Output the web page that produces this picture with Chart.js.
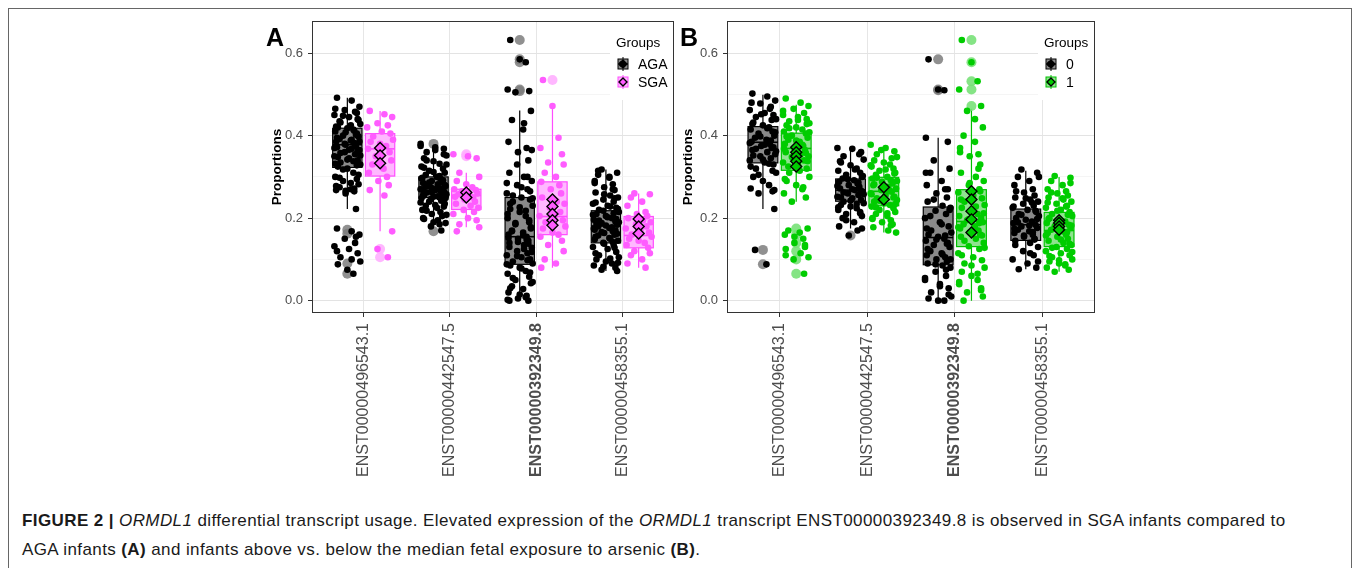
<!DOCTYPE html>
<html>
<head>
<meta charset="utf-8">
<script src="https://cdn.jsdelivr.net/npm/chart.js@4"></script>
<style>
  body { margin: 0; background: #fff; width: 1356px; height: 568px; overflow: hidden; position: relative;
         font-family: 'Liberation Sans', Arial, sans-serif; }
  #frame { position: absolute; left: 8px; top: 8px; width: 1342px; height: 620px; border: 1px solid #666; }
  .wrap { position: absolute; top: 0; width: 430px; height: 490px; }
  #wrapA { left: 255px; }
  #wrapB { left: 676px; }
  .letter { position: absolute; top: 25px; font-size: 25px; line-height: 25px; font-weight: bold; color: #000; }
  #caption { position: absolute; left: 22px; top: 506px; font-size: 17px; letter-spacing: 0.4px; line-height: 29px; color: #1a1a1a; white-space: nowrap; }
</style>
</head>
<body>
<div id="frame"></div>
<div class="wrap" id="wrapA"><canvas id="chartA" width="430" height="490"></canvas></div>
<div class="wrap" id="wrapB"><canvas id="chartB" width="430" height="490"></canvas></div>
<div class="letter" style="left:266px">A</div>
<div class="letter" style="left:680px">B</div>
<div id="caption"><b>FIGURE 2 |</b> <i>ORMDL1</i> differential transcript usage. Elevated expression of the <i>ORMDL1</i> transcript ENST00000392349.8 is observed in SGA infants compared to<br>AGA infants <b>(A)</b> and infants above vs. below the median fetal exposure to arsenic <b>(B)</b>.</div>

<script>
// --- data ---
const CATS = ['ENST00000496543.1', 'ENST00000442547.5', 'ENST00000392349.8', 'ENST00000458355.1'];
const Y_TICKS = [0, 0.1, 0.2, 0.3, 0.4, 0.5, 0.6];
const Y_TICK_LABELS = ['0.0', '', '0.2', '', '0.4', '', '0.6'];

// panel A, AGA
const AGA_Q1 = [0.323, 0.250, 0.088, 0.140];
const AGA_MED = [0.378, 0.275, 0.155, 0.181];
const AGA_Q3 = [0.418, 0.300, 0.250, 0.218];
const AGA_LO = [0.222, 0.190, 0.000, 0.072];
const AGA_HI = [0.492, 0.372, 0.461, 0.318];
const AGA_OUT = [[0.172, 0.162, 0.090, 0.065], [0.380, 0.168], [0.632, 0.585, 0.578, 0.512, 0.508], []];
const AGA_PTS = [
  [0.492, 0.485, 0.47, 0.462, 0.458, 0.45, 0.445, 0.44, 0.432, 0.428, 0.42, 0.418, 0.415, 0.41, 0.405, 0.40, 0.398, 0.392, 0.388, 0.385, 0.382, 0.378, 0.375, 0.372, 0.368, 0.365, 0.36, 0.355, 0.35, 0.345, 0.34, 0.335, 0.33, 0.325, 0.32, 0.31, 0.30, 0.295, 0.29, 0.282, 0.275, 0.27, 0.268, 0.265, 0.26, 0.222,
   0.175, 0.168, 0.16, 0.15, 0.14, 0.132, 0.125, 0.115, 0.105, 0.095, 0.088, 0.075, 0.065,
   0.465, 0.455, 0.448, 0.438, 0.435, 0.425, 0.422, 0.412, 0.408, 0.402, 0.395, 0.39, 0.386, 0.38, 0.376, 0.37, 0.366, 0.362, 0.358, 0.352, 0.348, 0.342, 0.338, 0.332, 0.328, 0.318, 0.305, 0.298, 0.285, 0.278, 0.272, 0.266, 0.155, 0.12, 0.1],
  [0.38, 0.372, 0.368, 0.36, 0.352, 0.345, 0.338, 0.332, 0.325, 0.32, 0.315, 0.31, 0.305, 0.30, 0.298, 0.295, 0.29, 0.288, 0.285, 0.282, 0.278, 0.275, 0.272, 0.27, 0.268, 0.265, 0.262, 0.258, 0.255, 0.252, 0.25, 0.248, 0.245, 0.24, 0.235, 0.23, 0.225, 0.22, 0.215, 0.21, 0.205, 0.2, 0.195, 0.188, 0.18, 0.17,
   0.375, 0.365, 0.355, 0.34, 0.33, 0.322, 0.312, 0.302, 0.296, 0.292, 0.286, 0.28, 0.276, 0.273, 0.269, 0.266, 0.263, 0.26, 0.256, 0.253, 0.249, 0.246, 0.242, 0.238, 0.232, 0.228, 0.218, 0.208, 0.198, 0.19, 0.185],
  [0.632, 0.585, 0.578, 0.512, 0.508, 0.505, 0.46, 0.438, 0.415, 0.385, 0.37, 0.36, 0.34, 0.31, 0.3, 0.29, 0.28, 0.27, 0.26, 0.25, 0.245, 0.24, 0.23, 0.222, 0.215, 0.205, 0.2, 0.19, 0.185, 0.178, 0.17, 0.165, 0.16, 0.155, 0.15, 0.145, 0.14, 0.135, 0.128, 0.12, 0.115, 0.11, 0.105, 0.1, 0.095, 0.09, 0.085, 0.08, 0.072, 0.065, 0.058, 0.05, 0.042, 0.035, 0.028, 0.02, 0.012, 0.005, 0.0, 0.0,
   0.43, 0.365, 0.33, 0.3, 0.285, 0.275, 0.265, 0.255, 0.248, 0.235, 0.226, 0.218, 0.21, 0.195, 0.188, 0.175, 0.168, 0.158, 0.152, 0.148, 0.142, 0.138, 0.13, 0.125, 0.118, 0.108, 0.098, 0.088, 0.078, 0.068, 0.055, 0.045, 0.03, 0.015, 0.008, 0.002],
  [0.318, 0.31, 0.305, 0.3, 0.29, 0.282, 0.275, 0.268, 0.262, 0.255, 0.25, 0.245, 0.24, 0.235, 0.23, 0.225, 0.22, 0.215, 0.21, 0.205, 0.2, 0.196, 0.192, 0.188, 0.184, 0.18, 0.176, 0.172, 0.168, 0.164, 0.16, 0.155, 0.15, 0.145, 0.14, 0.135, 0.13, 0.125, 0.118, 0.11, 0.105, 0.1, 0.095, 0.09, 0.085, 0.08, 0.075, 0.072,
   0.315, 0.298, 0.285, 0.27, 0.258, 0.248, 0.238, 0.228, 0.222, 0.218, 0.212, 0.208, 0.202, 0.198, 0.194, 0.19, 0.186, 0.182, 0.178, 0.174, 0.17, 0.166, 0.162, 0.158, 0.152, 0.148, 0.142, 0.138, 0.128, 0.115, 0.102, 0.092, 0.082]
];

// panel A, SGA
const SGA_Q1 = [0.302, 0.221, 0.160, 0.128];
const SGA_MED = [0.368, 0.255, 0.204, 0.158];
const SGA_Q3 = [0.405, 0.270, 0.288, 0.204];
const SGA_LO = [0.168, 0.178, 0.080, 0.080];
const SGA_HI = [0.460, 0.310, 0.472, 0.260];
const SGA_OUT = [[0.125, 0.105], [0.355, 0.350], [0.535], []];
const SGA_MEAN = [[0.370, 0.352, 0.333], [0.262, 0.250], [0.245, 0.228, 0.210, 0.195, 0.183], [0.198, 0.180, 0.163]];
const SGA_PTS = [
  [0.46, 0.452, 0.445, 0.43, 0.425, 0.42, 0.41, 0.405, 0.398, 0.39, 0.385, 0.38, 0.375, 0.368, 0.36, 0.35, 0.34, 0.33, 0.32, 0.31, 0.3, 0.29, 0.28, 0.268, 0.255, 0.168, 0.125, 0.105],
  [0.355, 0.35, 0.345, 0.31, 0.3, 0.29, 0.282, 0.275, 0.27, 0.268, 0.265, 0.26, 0.258, 0.255, 0.252, 0.25, 0.245, 0.24, 0.235, 0.23, 0.225, 0.22, 0.215, 0.21, 0.2, 0.195, 0.185, 0.178, 0.168],
  [0.535, 0.472, 0.395, 0.37, 0.355, 0.335, 0.33, 0.31, 0.3, 0.288, 0.28, 0.27, 0.26, 0.25, 0.24, 0.235, 0.225, 0.215, 0.205, 0.2, 0.195, 0.19, 0.18, 0.175, 0.165, 0.16, 0.155, 0.145, 0.135, 0.12, 0.1, 0.09, 0.08],
  [0.26, 0.258, 0.25, 0.24, 0.23, 0.215, 0.21, 0.205, 0.2, 0.195, 0.19, 0.185, 0.18, 0.175, 0.17, 0.165, 0.16, 0.155, 0.15, 0.145, 0.14, 0.135, 0.128, 0.12, 0.115, 0.11, 0.1, 0.09, 0.08]
];

// panel B, group 0
const G0_Q1 = [0.334, 0.241, 0.087, 0.146];
const G0_MED = [0.384, 0.268, 0.153, 0.184];
const G0_Q3 = [0.422, 0.295, 0.227, 0.222];
const G0_LO = [0.222, 0.175, 0.000, 0.076];
const G0_HI = [0.499, 0.368, 0.395, 0.315];
const G0_OUT = [[0.123, 0.088], [0.158], [0.585, 0.512, 0.510], []];
const G0_PTS = [
  [0.502, 0.495, 0.485, 0.478, 0.47, 0.462, 0.455, 0.45, 0.445, 0.44, 0.432, 0.425, 0.42, 0.415, 0.41, 0.405, 0.4, 0.395, 0.39, 0.385, 0.38, 0.375, 0.37, 0.365, 0.36, 0.355, 0.35, 0.345, 0.34, 0.335, 0.33, 0.32, 0.31, 0.3, 0.29, 0.28, 0.272, 0.265, 0.26, 0.222, 0.123, 0.088,
   0.48, 0.465, 0.452, 0.438, 0.428, 0.418, 0.408, 0.398, 0.388, 0.382, 0.378, 0.372, 0.368, 0.362, 0.352, 0.342, 0.332, 0.325, 0.315, 0.305, 0.268],
  [0.37, 0.368, 0.36, 0.35, 0.342, 0.335, 0.328, 0.32, 0.315, 0.31, 0.305, 0.3, 0.296, 0.292, 0.288, 0.284, 0.28, 0.276, 0.272, 0.268, 0.264, 0.26, 0.256, 0.252, 0.248, 0.244, 0.24, 0.236, 0.232, 0.228, 0.224, 0.22, 0.215, 0.21, 0.205, 0.2, 0.19, 0.18, 0.17, 0.158,
   0.355, 0.338, 0.318, 0.302, 0.294, 0.286, 0.278, 0.27, 0.266, 0.262, 0.258, 0.25, 0.242, 0.234, 0.226, 0.212, 0.195, 0.175],
  [0.585, 0.512, 0.51, 0.395, 0.385, 0.34, 0.32, 0.31, 0.29, 0.28, 0.27, 0.26, 0.25, 0.24, 0.23, 0.225, 0.218, 0.21, 0.2, 0.19, 0.18, 0.17, 0.165, 0.16, 0.155, 0.15, 0.145, 0.14, 0.135, 0.13, 0.12, 0.115, 0.11, 0.105, 0.1, 0.095, 0.09, 0.085, 0.08, 0.07, 0.06, 0.05, 0.04, 0.03, 0.02, 0.01, 0.005, 0.0, 0.0,
   0.31, 0.27, 0.245, 0.22, 0.205, 0.185, 0.175, 0.158, 0.148, 0.138, 0.125, 0.112, 0.1, 0.088, 0.075, 0.055, 0.035, 0.015],
  [0.318, 0.31, 0.3, 0.29, 0.28, 0.27, 0.262, 0.255, 0.25, 0.245, 0.24, 0.235, 0.23, 0.225, 0.22, 0.215, 0.21, 0.205, 0.2, 0.196, 0.192, 0.188, 0.184, 0.18, 0.176, 0.172, 0.168, 0.164, 0.16, 0.155, 0.15, 0.145, 0.14, 0.13, 0.12, 0.11, 0.1, 0.09, 0.08, 0.076,
   0.3, 0.265, 0.248, 0.238, 0.228, 0.218, 0.208, 0.198, 0.19, 0.182, 0.174, 0.166, 0.158, 0.148, 0.135, 0.115, 0.095]
];

// panel B, group 1
const G1_Q1 = [0.316, 0.230, 0.131, 0.131];
const G1_MED = [0.369, 0.265, 0.192, 0.170];
const G1_Q3 = [0.406, 0.299, 0.269, 0.214];
const G1_LO = [0.240, 0.165, 0.000, 0.070];
const G1_HI = [0.475, 0.375, 0.465, 0.300];
const G1_OUT = [[0.175, 0.16, 0.14, 0.12, 0.10, 0.065], [], [0.632, 0.578, 0.532, 0.512, 0.472], []];
const G1_MEAN = [[0.372, 0.360, 0.350, 0.338, 0.325], [0.275, 0.245], [0.265, 0.245, 0.217, 0.197, 0.165], [0.195, 0.188, 0.180, 0.172]];
const G1_PTS = [
  [0.49, 0.48, 0.472, 0.465, 0.455, 0.45, 0.445, 0.44, 0.435, 0.43, 0.425, 0.42, 0.415, 0.41, 0.405, 0.4, 0.395, 0.39, 0.385, 0.38, 0.375, 0.37, 0.365, 0.36, 0.355, 0.35, 0.345, 0.34, 0.335, 0.33, 0.32, 0.31, 0.3, 0.29, 0.28, 0.27, 0.26, 0.25, 0.24, 0.175, 0.17, 0.165, 0.16, 0.15, 0.14, 0.135, 0.125, 0.115, 0.105, 0.1, 0.065,
   0.46, 0.438, 0.428, 0.418, 0.408, 0.398, 0.388, 0.378, 0.368, 0.358, 0.348, 0.338, 0.325, 0.315, 0.295, 0.275, 0.155, 0.13, 0.11],
  [0.378, 0.37, 0.362, 0.355, 0.348, 0.34, 0.335, 0.33, 0.325, 0.32, 0.315, 0.31, 0.305, 0.3, 0.296, 0.292, 0.288, 0.284, 0.28, 0.276, 0.272, 0.268, 0.264, 0.26, 0.256, 0.252, 0.248, 0.244, 0.24, 0.236, 0.232, 0.228, 0.224, 0.22, 0.215, 0.21, 0.205, 0.2, 0.195, 0.19, 0.185, 0.178, 0.17, 0.165,
   0.365, 0.345, 0.328, 0.318, 0.308, 0.298, 0.29, 0.282, 0.274, 0.266, 0.258, 0.25, 0.242, 0.234, 0.226, 0.212, 0.198, 0.182],
  [0.632, 0.578, 0.532, 0.512, 0.472, 0.46, 0.42, 0.4, 0.385, 0.37, 0.355, 0.35, 0.33, 0.31, 0.3, 0.29, 0.28, 0.27, 0.262, 0.255, 0.248, 0.24, 0.232, 0.225, 0.218, 0.21, 0.205, 0.2, 0.195, 0.19, 0.185, 0.18, 0.175, 0.17, 0.165, 0.16, 0.155, 0.15, 0.14, 0.132, 0.125, 0.115, 0.105, 0.098, 0.09, 0.08, 0.07, 0.06, 0.05, 0.04, 0.03, 0.02, 0.01, 0.0,
   0.44, 0.36, 0.32, 0.285, 0.265, 0.245, 0.228, 0.212, 0.198, 0.188, 0.178, 0.168, 0.158, 0.145, 0.128, 0.11, 0.085, 0.065, 0.045, 0.025],
  [0.302, 0.298, 0.29, 0.28, 0.27, 0.265, 0.26, 0.255, 0.25, 0.245, 0.24, 0.235, 0.23, 0.225, 0.22, 0.215, 0.21, 0.205, 0.2, 0.196, 0.192, 0.188, 0.184, 0.18, 0.176, 0.172, 0.168, 0.164, 0.16, 0.155, 0.15, 0.145, 0.14, 0.135, 0.13, 0.125, 0.12, 0.115, 0.11, 0.105, 0.1, 0.095, 0.09, 0.085, 0.08, 0.075, 0.07,
   0.285, 0.262, 0.248, 0.238, 0.228, 0.218, 0.208, 0.198, 0.19, 0.182, 0.174, 0.166, 0.158, 0.148, 0.138, 0.128, 0.118, 0.108, 0.098, 0.088]
];

// --- styling ---
const FONT = "'Liberation Sans', Arial, sans-serif";
const DODGE = 0.19;     // group offset from category centre
const BOX_W = 0.34;     // box width in category units
// fixed jitter pattern (horizontal scatter only)
const JITTER = [-0.12, 0.05, 0.14, -0.03, 0.09, -0.15, 0.02, 0.12, -0.08, 0.15, -0.11, 0.0, 0.07, -0.14, 0.11, -0.05, 0.13, -0.09, 0.04, -0.13, 0.08, -0.02, 0.1];

const GRAY = { fill: '#8a8a8a', line: '#000000', point: '#000000', outlier: 'rgba(125,125,125,0.85)' };
const PINK = { fill: '#ffb8ff', line: '#ff4dff', point: '#ff5cff', outlier: 'rgba(255,175,255,0.9)' };
const GREEN = { fill: '#8fe38f', line: '#00c000', point: '#00cc00', outlier: 'rgba(120,225,120,0.9)' };

const groupsA = [
  { name: 'AGA', q1: AGA_Q1, med: AGA_MED, q3: AGA_Q3, lo: AGA_LO, hi: AGA_HI, out: AGA_OUT, pts: AGA_PTS, mean: null, style: GRAY },
  { name: 'SGA', q1: SGA_Q1, med: SGA_MED, q3: SGA_Q3, lo: SGA_LO, hi: SGA_HI, out: SGA_OUT, pts: SGA_PTS, mean: SGA_MEAN, style: PINK },
];
const groupsB = [
  { name: '0', q1: G0_Q1, med: G0_MED, q3: G0_Q3, lo: G0_LO, hi: G0_HI, out: G0_OUT, pts: G0_PTS, mean: null, style: GRAY },
  { name: '1', q1: G1_Q1, med: G1_MED, q3: G1_Q3, lo: G1_LO, hi: G1_HI, out: G1_OUT, pts: G1_PTS, mean: G1_MEAN, style: GREEN },
];

function drawDiamond(ctx, x, y, r, fill) {
  ctx.beginPath();
  ctx.moveTo(x, y - r); ctx.lineTo(x + r, y); ctx.lineTo(x, y + r); ctx.lineTo(x - r, y); ctx.closePath();
  ctx.fillStyle = fill; ctx.fill();
  ctx.strokeStyle = '#000'; ctx.lineWidth = 1.3; ctx.stroke();
}

function boxPlugin(groups, legendLeft) {
  return {
    id: 'boxes',
    beforeDatasetsDraw(chart) {
      const { ctx, scales: { x, y } } = chart;
      ctx.save();
      groups.forEach((g, gi) => {
        const dx = gi === 0 ? -DODGE : DODGE;
        g.q1.forEach((q1, i) => {
          const cx = x.getPixelForValue(i + dx);
          const hw = x.getPixelForValue(i + dx + BOX_W / 2) - cx;
          const y1 = y.getPixelForValue(q1), y3 = y.getPixelForValue(g.q3[i]);
          ctx.strokeStyle = g.style.line;
          ctx.lineWidth = 1.2;
          ctx.beginPath();
          ctx.moveTo(cx, y.getPixelForValue(g.hi[i])); ctx.lineTo(cx, y3);
          ctx.moveTo(cx, y1); ctx.lineTo(cx, y.getPixelForValue(g.lo[i]));
          ctx.stroke();
          ctx.fillStyle = g.style.fill;
          ctx.fillRect(cx - hw, y3, 2 * hw, y1 - y3);
          ctx.strokeRect(cx - hw, y3, 2 * hw, y1 - y3);
          const ym = y.getPixelForValue(g.med[i]);
          ctx.lineWidth = 1.6;
          ctx.beginPath(); ctx.moveTo(cx - hw, ym); ctx.lineTo(cx + hw, ym); ctx.stroke();
        });
      });
      ctx.restore();
    },
    afterDraw(chart) {
      const { ctx, chartArea: a } = chart;
      ctx.save();
      // legend box inside the panel
      const tl = legendLeft;
      ctx.fillStyle = '#fff';
      ctx.fillRect(tl - 6, a.top + 1, a.right - tl + 5, 78);
      ctx.fillStyle = '#000';
      ctx.font = '13.5px ' + FONT;
      ctx.textBaseline = 'middle';
      ctx.fillText('Groups', tl, 43);
      groups.forEach((g, gi) => {
        const cy = 64 + gi * 18, cx = tl + 7;
        ctx.strokeStyle = g.style.line; ctx.lineWidth = 1;
        ctx.beginPath(); ctx.moveTo(cx, cy - 7); ctx.lineTo(cx, cy + 7); ctx.stroke();
        ctx.fillStyle = g.style.fill;
        ctx.fillRect(cx - 5, cy - 5, 10, 10);
        ctx.strokeRect(cx - 5, cy - 5, 10, 10);
        ctx.beginPath(); ctx.moveTo(cx - 5, cy); ctx.lineTo(cx + 5, cy); ctx.stroke();
        ctx.fillStyle = g.style.point;
        ctx.beginPath(); ctx.arc(cx - 1, cy, 3, 0, Math.PI * 2); ctx.fill();
        drawDiamond(ctx, cx, cy, 4, gi === 0 ? '#000' : g.style.point);
        ctx.fillStyle = '#000';
        ctx.font = '14px ' + FONT;
        ctx.fillText(g.name, tl + 22, cy + 1);
      });
      // panel border
      ctx.strokeStyle = '#333';
      ctx.lineWidth = 1;
      ctx.strokeRect(a.left + 0.5, a.top + 0.5, a.right - a.left - 1, a.bottom - a.top - 1);
      ctx.restore();
    }
  };
}

function makeChart(id, groups, titlePad, legendLeft) {
  const datasets = [];
  groups.forEach((g, gi) => {
    const dx = gi === 0 ? -DODGE : DODGE;
    datasets.push({
      data: g.out.flatMap((vals, i) => vals.map(v => ({ x: i + dx, y: v }))),
      pointRadius: 5, backgroundColor: g.style.outlier, borderWidth: 0, order: 3
    });
    datasets.push({
      data: g.pts.flatMap((vals, i) => vals.map((v, k) => ({ x: i + dx + JITTER[(k + i * 5) % JITTER.length], y: v }))),
      pointRadius: 3.3, backgroundColor: g.style.point, borderWidth: 0, order: 2
    });
    if (g.mean) {
      datasets.push({
        data: g.mean.flatMap((vals, i) => vals.map(v => ({ x: i + dx, y: v }))),
        pointStyle: 'rectRot', pointRadius: 5.5, backgroundColor: g.style.point,
        borderColor: '#000', borderWidth: 1.4, order: 1
      });
    }
  });

  return new Chart(document.getElementById(id), {
    type: 'scatter',
    data: { datasets },
    options: {
      responsive: false, animation: false, events: [],
      layout: { padding: { top: 21, right: 11, left: 0, bottom: 0 } },
      plugins: { legend: { display: false }, tooltip: { enabled: false } },
      scales: {
        x: {
          type: 'linear', min: -0.6, max: 3.6,
          afterBuildTicks: s => { s.ticks = CATS.map((c, i) => ({ value: i })); },
          afterFit: s => { s.height = 177; },
          border: { display: false },
          grid: { color: '#e6e6e6', lineWidth: 1, tickColor: '#333', tickLength: 4 },
          ticks: {
            minRotation: 90, maxRotation: 90, padding: 6, color: '#4d4d4d',
            font: c => ({ family: FONT, size: 16, weight: c.index === 2 ? 'bold' : 'normal' }),
            callback: (v, i) => CATS[i]
          }
        },
        y: {
          type: 'linear', min: -0.03, max: 0.678,
          afterBuildTicks: s => { s.ticks = Y_TICKS.map(v => ({ value: v })); },
          afterFit: s => { s.width = id === 'chartA' ? 57 : 51; },
          border: { display: false },
          grid: {
            color: c => Y_TICK_LABELS[c.index] ? '#e3e3e3' : '#f1f1f1',
            lineWidth: c => Y_TICK_LABELS[c.index] ? 1 : 0.7,
            tickColor: c => Y_TICK_LABELS[c.index] ? '#333' : 'rgba(0,0,0,0)',
            tickLength: 4
          },
          ticks: {
            padding: 5, color: '#4d4d4d', font: { family: FONT, size: 13 },
            callback: (v, i) => Y_TICK_LABELS[i]
          },
          title: {
            display: true, text: 'Proportions', color: '#000',
            font: { family: FONT, size: 13.5, weight: 'bold' },
            padding: { top: titlePad, bottom: 0 }
          }
        }
      }
    },
    plugins: [boxPlugin(groups, legendLeft)]
  });
}

makeChart('chartA', groupsA, 14, 361);
makeChart('chartB', groupsB, 4, 368);
</script>
</body>
</html>
